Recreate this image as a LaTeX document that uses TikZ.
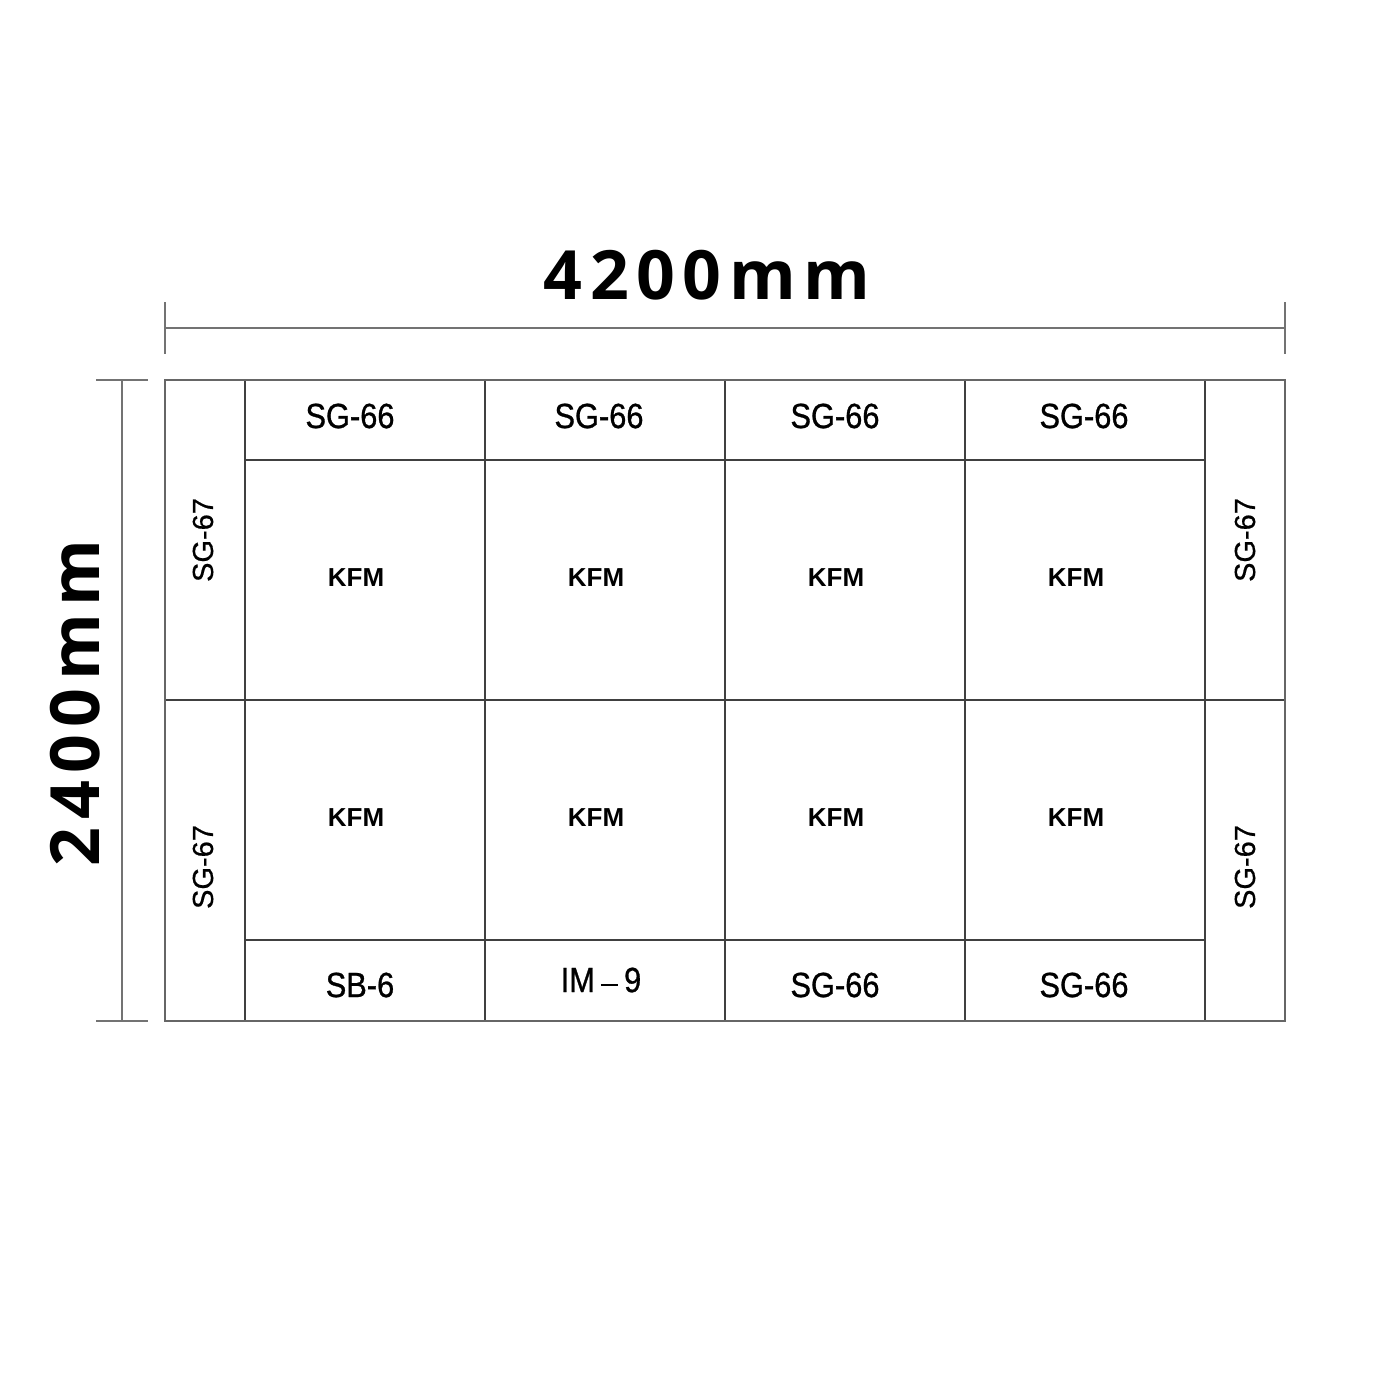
\documentclass[tikz,border=0pt]{standalone}
\usepackage{fontspec}
\setmainfont{Liberation Sans}
\newfontfamily\dimfont[LetterSpace=11]{Open Sans}
\newfontfamily\narrowfont[FakeStretch=0.88,FakeBold=0.8]{Liberation Sans}
\newfontfamily\heavyfont[FakeBold=0.6]{Liberation Sans}
\begin{document}
\begin{tikzpicture}[x=1pt,y=-1pt,
  gridline/.style={draw=black!60,line width=1.3pt},
  innerline/.style={draw=black!75,line width=1.1pt},
  dimline/.style={draw=black!55,line width=1.5pt},
  sgh/.style={font=\narrowfont\fontsize{35}{35}\selectfont,inner sep=0pt},
  sgv/.style={font=\heavyfont\fontsize{29}{29}\selectfont,inner sep=0pt,rotate=90},
  kfm/.style={font=\bfseries\fontsize{26}{26}\selectfont,inner sep=0pt},
  dimtext/.style={font=\dimfont\bfseries\fontsize{68}{68}\selectfont,inner sep=0pt}]
\useasboundingbox (0,0) rectangle (1400,1400);
% grid
\draw[innerline] (245,460) -- (1205,460) (245,700) -- (1205,700) (245,940) -- (1205,940);
\draw[innerline] (165,700) -- (245,700) (1205,700) -- (1285,700);
\foreach \x in {245,485,725,965,1205} \draw[innerline] (\x,380) -- (\x,1021);
\draw[gridline] (165,380) rectangle (1285,1021);
% top dimension
\coordinate (t1) at (165,328);
\coordinate (t2) at (1285,328);
\draw[dimline] (t1) -- (t2);
\draw[dimline] (165,302) -- (165,354) (1285,302) -- (1285,354);
\node[dimtext] (tw) at (707,275) {4200mm};
% left dimension
\coordinate (l1) at (122,380);
\coordinate (l2) at (122,1021);
\draw[dimline] (l1) -- (l2);
\draw[dimline] (96,380) -- (148,380) (96,1021) -- (148,1021);
\node[dimtext,rotate=90] (lh) at (75,703) {2400mm};
% labels
\node[sgh] (a1) at (350,416) {SG-66};
\node[sgh] (a2) at (599,416) {SG-66};
\node[sgh] (a3) at (835,416) {SG-66};
\node[sgh] (a4) at (1084,416) {SG-66};
\node[sgh] (b1) at (360,985) {SB-6};
\node[sgh] (b2) at (601,980) {IM\,\raisebox{0.33ex}{\rule{0.5em}{0.07em}}\,9};
\node[sgh] (b3) at (835,985) {SG-66};
\node[sgh] (b4) at (1084,985) {SG-66};
\foreach \i/\x in {1/356,2/596,3/836,4/1076}{
  \node[kfm] (k\i) at (\x,578) {KFM};
  \node[kfm] (m\i) at (\x,818) {KFM};
}
\node[sgv] (v1) at (203,540) {SG-67};
\node[sgv] (v2) at (203,867) {SG-67};
\node[sgv] (v3) at (1245,540) {SG-67};
\node[sgv] (v4) at (1245,867) {SG-67};
\end{tikzpicture}
\end{document}
